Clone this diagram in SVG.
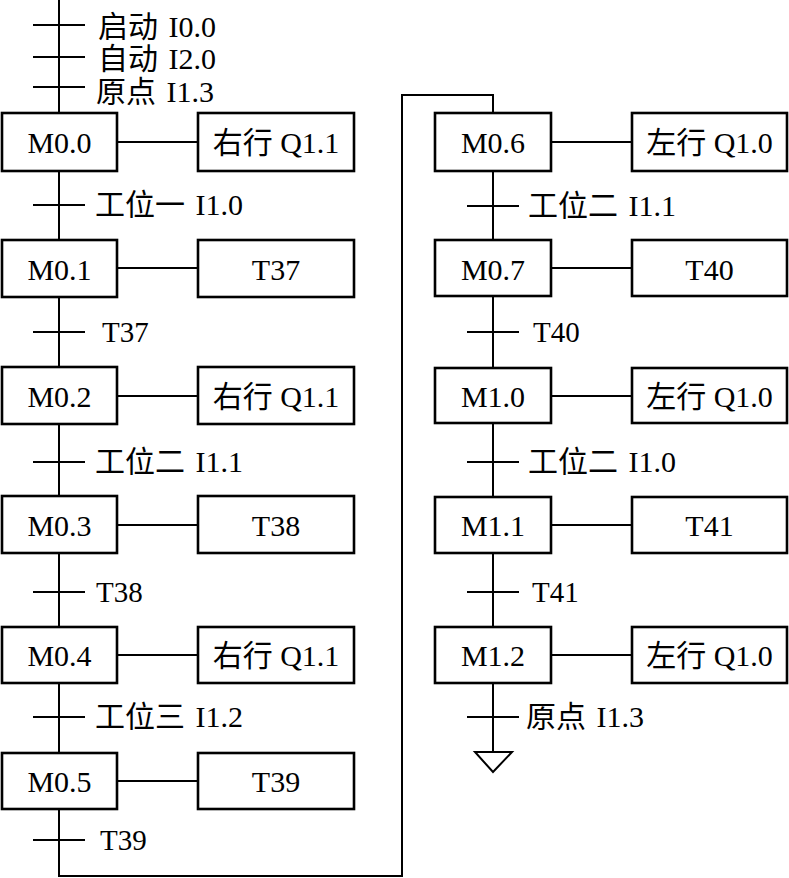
<svg xmlns="http://www.w3.org/2000/svg" width="789" height="878" viewBox="0 0 789 878">
<style>
.box{fill:#fff;stroke:#000;stroke-width:2.6}
.ln{fill:none;stroke:#000;stroke-width:2}
text{font-family:"Liberation Serif","Noto Sans CJK SC",serif;font-size:29px;fill:#000}
.k{font-size:30px;word-spacing:3px}
.c{text-anchor:middle;font-size:30px}
</style>
<g id="connectors">
<path class="ln" d="M59 0V113M59 171V240M59 297V367M59 424V496M59 553V627M59 683V753M59 809V876H402V95H493V113"/>
<path class="ln" d="M493 171V240M493 297V368M493 423V497M493 553V627M493 683V752"/>
<path class="ln" d="M117 142H198M117 268H198M117 396H198M117 525H198M117 655H198M117 781H198"/>
<path class="ln" d="M551 142H632M551 268H632M551 396H632M551 525H632M551 655H632"/>
<path class="ln" d="M33 25H85M33 57H85M33 87H85M33 205H85M33 332H85M33 462H85M33 592H85M33 717H85M33 840H85"/>
<path class="ln" d="M467 206H519M467 332H519M467 462H519M467 592H519M467 717H519"/>
<polygon class="ln" points="475,752 512,752 493,772"/>
</g>
<g id="labels">
<text class="k" x="98" y="37">启动 I0.0</text>
<text class="k" x="98" y="69">自动 I2.0</text>
<text class="k" x="96" y="102">原点 I1.3</text>
<text class="k" x="95" y="215">工位一 I1.0</text>
<text x="102" y="342">T37</text>
<text class="k" x="95" y="472">工位二 I1.1</text>
<text x="96" y="602">T38</text>
<text class="k" x="95" y="727">工位三 I1.2</text>
<text x="100" y="850">T39</text>
<text class="k" x="528" y="216">工位二 I1.1</text>
<text x="533" y="342">T40</text>
<text class="k" x="528" y="472">工位二 I1.0</text>
<text x="532" y="602">T41</text>
<text class="k" x="526" y="727">原点 I1.3</text>
</g>
<g id="M0.0"><rect class="box" x="2" y="113" width="115" height="58"/><text class="c" x="59.5" y="153">M0.0</text></g>
<g id="A0.0"><rect class="box" x="198" y="113" width="156" height="58"/><text class="c" x="276" y="153">右行 Q1.1</text></g>
<g id="M0.1"><rect class="box" x="2" y="240" width="115" height="57"/><text class="c" x="59.5" y="280">M0.1</text></g>
<g id="A0.1"><rect class="box" x="198" y="240" width="156" height="57"/><text class="c" x="276" y="280">T37</text></g>
<g id="M0.2"><rect class="box" x="2" y="367" width="115" height="57"/><text class="c" x="59.5" y="407">M0.2</text></g>
<g id="A0.2"><rect class="box" x="198" y="367" width="156" height="57"/><text class="c" x="276" y="407">右行 Q1.1</text></g>
<g id="M0.3"><rect class="box" x="2" y="496" width="115" height="57"/><text class="c" x="59.5" y="536">M0.3</text></g>
<g id="A0.3"><rect class="box" x="198" y="496" width="156" height="57"/><text class="c" x="276" y="536">T38</text></g>
<g id="M0.4"><rect class="box" x="2" y="627" width="115" height="56"/><text class="c" x="59.5" y="666">M0.4</text></g>
<g id="A0.4"><rect class="box" x="198" y="627" width="156" height="56"/><text class="c" x="276" y="666">右行 Q1.1</text></g>
<g id="M0.5"><rect class="box" x="2" y="753" width="115" height="56"/><text class="c" x="59.5" y="792">M0.5</text></g>
<g id="A0.5"><rect class="box" x="198" y="753" width="156" height="56"/><text class="c" x="276" y="792">T39</text></g>
<g id="M0.6"><rect class="box" x="435" y="113" width="116" height="58"/><text class="c" x="493" y="153">M0.6</text></g>
<g id="A0.6"><rect class="box" x="632" y="113" width="155" height="58"/><text class="c" x="709.5" y="153">左行 Q1.0</text></g>
<g id="M0.7"><rect class="box" x="435" y="240" width="116" height="56"/><text class="c" x="493" y="280">M0.7</text></g>
<g id="A0.7"><rect class="box" x="632" y="240" width="155" height="56"/><text class="c" x="709.5" y="280">T40</text></g>
<g id="M1.0"><rect class="box" x="435" y="368" width="116" height="55"/><text class="c" x="493" y="407">M1.0</text></g>
<g id="A1.0"><rect class="box" x="632" y="368" width="155" height="55"/><text class="c" x="709.5" y="407">左行 Q1.0</text></g>
<g id="M1.1"><rect class="box" x="435" y="497" width="116" height="56"/><text class="c" x="493" y="536">M1.1</text></g>
<g id="A1.1"><rect class="box" x="632" y="497" width="155" height="56"/><text class="c" x="709.5" y="536">T41</text></g>
<g id="M1.2"><rect class="box" x="435" y="627" width="116" height="56"/><text class="c" x="493" y="666">M1.2</text></g>
<g id="A1.2"><rect class="box" x="632" y="627" width="155" height="56"/><text class="c" x="709.5" y="666">左行 Q1.0</text></g>
</svg>
